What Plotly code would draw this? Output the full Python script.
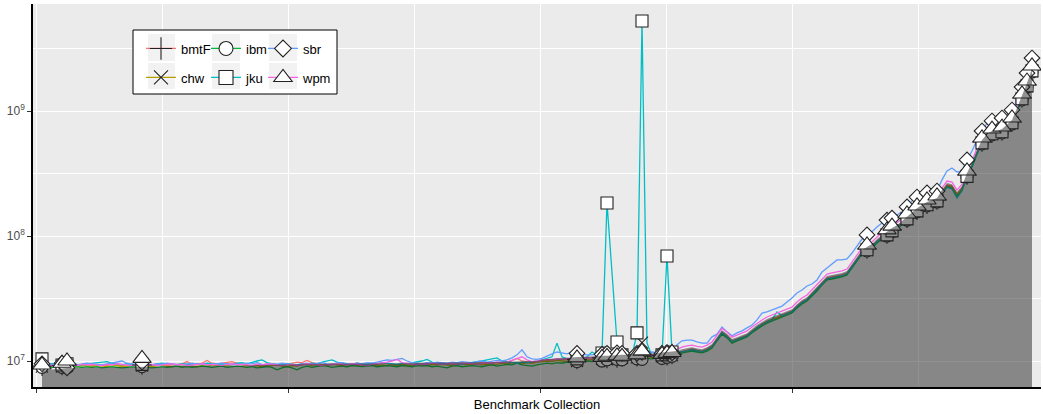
import plotly.graph_objects as go

# values are in millions (multiplied by SCALE when plotted)
SCALE = 1e6

n_points = 199
bench = list(range(n_points))

bmtF = [
    9.1, 9.2, 9.3, 9.4, 9.2, 9.3, 9.1, 9.2, 9.4, 9.3,
    9.2, 9.1, 9.3, 9.2, 9.4, 9.3, 9.2, 9.1, 9.3, 9.2,
    9.3, 9.4, 9.2, 9.3, 9.1, 9.2, 9.3, 9.4, 9.5, 9.9,
    9.4, 9.3, 9.6, 10.1, 9.6, 9.5, 9.6, 9.7, 9.9, 9.6,
    9.4, 9.3, 9.2, 9.4, 9.3, 9.2, 9.4, 9.3, 9.2, 9.4,
    9.6, 9.8, 9.7, 10.1, 9.7, 9.5, 9.4, 9.3, 9.5, 9.4,
    9.5, 9.3, 9.4, 9.6, 9.4, 9.3, 9.5, 9.4, 9.6, 9.5,
    9.4, 9.3, 9.5, 9.6, 9.4, 9.5, 9.3, 9.6, 9.5, 9.4,
    9.6, 9.5, 9.4, 9.6, 9.7, 9.5, 9.4, 9.6, 9.7, 9.5,
    9.6, 9.8, 9.6, 9.7, 10.1, 10.5, 10.0, 9.8, 9.7, 9.9,
    10.1, 10.0, 10.2, 10.1, 10.3, 10.2, 10.1, 10.3, 10.2, 10.4,
    10.3, 10.5, 10.6, 10.5, 10.7, 10.6, 10.8, 10.7, 10.9, 10.8,
    10.9, 11.0, 10.8, 11.0, 11.1, 11.0, 11.3, 11.6,
    12.0, 12.3, 12.5, 12.2, 12.0, 12.5, 13.2, 15.0, 17.1, 15.9,
    14.5, 15.0, 15.6, 16.1, 17.4, 18.7, 19.8, 20.9, 21.7, 22.5,
    23.3, 24.2, 25.1, 27.5, 29.7, 31.3, 34.4, 37.7, 42.1, 46.1,
    47.0, 47.9, 48.8, 50.6, 57.5, 65.5, 74.5, 78.7, 83.2, 91.2,
    98.2, 104, 112, 118, 127, 139, 150, 161, 171, 180,
    187, 194, 225, 256, 251, 217, 242, 308, 370, 470,
    565, 631, 667, 667, 692, 745, 817, 1019, 1271, 1614,
    2128,
]

chw = [
    9.0, 9.1, 9.2, 9.1, 9.0, 9.2, 9.1, 9.0, 9.2, 9.1,
    9.0, 9.2, 9.1, 9.0, 9.1, 9.2, 9.0, 9.1, 9.2, 9.1,
    9.2, 9.1, 9.0, 9.2, 9.3, 9.1, 9.0, 9.2, 9.1, 9.2,
    9.1, 9.0, 9.2, 9.1, 9.3, 9.2, 9.1, 9.2, 9.4, 9.6,
    9.3, 9.2, 9.1, 9.2, 9.0, 9.1, 9.2, 9.3, 9.1, 9.0,
    9.2, 9.1, 9.3, 9.4, 9.2, 9.1, 9.3, 9.2, 9.4, 9.3,
    9.2, 9.4, 9.3, 9.2, 9.1, 9.3, 9.4, 9.2, 9.3, 9.2,
    9.3, 9.2, 9.4, 9.3, 9.2, 9.4, 9.3, 9.2, 9.4, 9.3,
    9.4, 9.3, 9.2, 9.4, 9.5, 9.3, 9.4, 9.5, 9.3, 9.4,
    9.5, 9.4, 9.6, 9.5, 9.7, 9.6, 9.5, 9.7, 9.6, 9.8,
    9.9, 10.0, 9.9, 10.1, 10.0, 9.9, 10.1, 10.0, 10.2, 10.1,
    10.2, 10.3, 10.4, 10.3, 10.5, 10.4, 10.6, 10.5, 10.6, 10.7,
    14.0, 10.8, 10.7, 10.8, 10.9, 10.8, 11.1, 11.4,
    11.8, 12.1, 12.2, 12.0, 11.8, 12.2, 12.9, 14.7, 16.8, 15.6,
    14.2, 14.7, 15.3, 15.8, 17.0, 18.4, 19.4, 20.5, 21.3, 22.1,
    22.9, 23.8, 24.6, 27.0, 29.1, 30.7, 33.7, 37.0, 41.3, 45.2,
    46.1, 46.9, 47.8, 49.6, 56.4, 64.2, 73.0, 77.1, 81.5, 89.4,
    96.2, 102, 110, 116, 125, 137, 147, 158, 167, 177,
    183, 190, 220, 251, 246, 213, 237, 302, 363, 461,
    554, 619, 654, 654, 678, 730, 801, 999, 1246, 1582,
    2086,
]

ibm = [
    8.9, 8.8, 8.9, 9.0, 8.9, 8.8, 8.9, 9.0, 8.9, 9.0,
    8.9, 9.0, 8.8, 8.9, 9.0, 8.9, 8.8, 8.9, 9.0, 8.9,
    9.0, 8.9, 8.8, 8.9, 9.0, 8.9, 9.0, 9.1, 8.9, 9.0,
    8.9, 9.0, 9.1, 9.0, 8.9, 9.0, 9.1, 8.9, 9.0, 9.1,
    9.0, 8.9, 9.0, 8.8, 8.9, 9.0, 8.9, 8.5, 8.8, 9.0,
    8.8, 8.5, 8.9, 9.1, 8.9, 9.0, 9.2, 9.1, 8.9, 9.0,
    9.1, 9.0, 9.2, 9.1, 9.0, 9.1, 9.2, 9.0, 9.1, 9.2,
    9.1, 9.0, 9.2, 9.1, 9.0, 9.2, 9.1, 9.2, 9.0, 9.1,
    9.0, 8.8, 9.1, 9.2, 9.0, 9.1, 9.2, 9.1, 9.0, 9.2,
    9.3, 9.1, 9.2, 9.4, 9.3, 9.6, 9.3, 9.2, 9.1, 9.3,
    9.4, 9.6, 9.5, 9.7, 9.6, 9.8, 9.7, 9.9, 9.8, 10.0,
    9.9, 10.1, 10.0, 10.2, 10.1, 10.3, 10.2, 10.4, 10.3, 10.4,
    10.3, 10.5, 10.4, 10.6, 10.5, 10.7, 10.9, 11.2,
    11.6, 11.8, 12.0, 11.8, 11.6, 12.0, 12.7, 14.5, 16.4, 15.3,
    13.9, 14.5, 15.0, 15.6, 16.8, 18.0, 19.1, 20.1, 20.9, 21.7,
    22.5, 23.3, 24.2, 26.5, 28.6, 30.2, 33.1, 36.3, 40.6, 44.5,
    45.3, 46.1, 47.0, 48.8, 55.5, 63.1, 71.8, 75.9, 80.2, 87.9,
    94.6, 100, 108, 114, 123, 134, 145, 156, 164, 174,
    180, 187, 217, 247, 242, 209, 233, 297, 356, 453,
    545, 608, 643, 643, 667, 718, 787, 982, 1225, 1556,
    2051,
]

jku = [
    10.4, 9.3, 9.5, 9.4, 9.3, 9.5, 9.6, 9.4, 9.3, 9.5,
    9.6, 9.7, 9.8, 9.9, 9.6, 9.4, 9.3, 9.5, 9.4, 9.3,
    9.4, 9.5, 9.3, 9.4, 9.6, 9.5, 9.4, 9.3, 9.5, 9.4,
    9.3, 9.5, 9.4, 9.6, 9.5, 9.4, 9.3, 9.5, 9.4, 9.6,
    9.7, 9.5, 9.8, 10.0, 10.2, 9.7, 9.5, 9.4, 9.3, 9.5,
    9.4, 9.3, 9.5, 9.4, 9.6, 9.5, 9.8, 10.0, 10.2, 9.8,
    9.6, 9.5, 9.4, 9.6, 9.5, 9.4, 9.6, 9.5, 9.7, 9.6,
    9.5, 9.4, 9.6, 9.5, 9.7, 9.8, 10.0, 10.3, 9.8, 9.6,
    9.5, 9.4, 9.6, 9.5, 9.4, 9.6, 9.7, 9.8, 10.0, 10.2,
    10.4, 10.6, 10.0, 9.8, 9.7, 9.6, 9.8, 9.7, 9.8, 10.0,
    10.2, 10.5, 10.8, 13.9, 10.8, 10.4, 10.3, 10.4, 10.5, 10.8,
    11.8, 11.2, 11.6, 183.7, 51.0, 14.2, 11.2, 10.8, 11.0, 16.8,
    5248, 13.9, 11.0, 10.9, 11.2, 69.2, 11.8, 11.6,
    11.9, 12.0, 12.3, 12.1, 11.9, 12.3, 13.0, 14.8, 16.9, 15.6,
    14.3, 14.8, 15.3, 15.9, 17.1, 18.5, 19.5, 20.6, 21.4, 24.7,
    23.0, 23.9, 24.8, 27.2, 29.3, 30.9, 33.9, 37.2, 41.5, 45.5,
    46.3, 47.2, 48.1, 49.9, 56.8, 64.6, 73.5, 77.6, 82.0, 90.0,
    96.8, 102, 110, 116, 125, 137, 148, 159, 168, 178,
    185, 191, 218, 246, 238, 201, 230, 300, 362, 462,
    556, 621, 657, 657, 682, 734, 805, 1004, 1252, 1590,
    2096,
]

sbr = [
    9.5, 9.4, 9.3, 9.5, 9.6, 8.8, 9.5, 9.3, 9.4, 9.6,
    9.5, 9.4, 9.3, 9.5, 9.7, 9.8, 10.0, 9.6, 9.4, 9.3,
    9.8, 9.4, 9.3, 9.5, 9.4, 9.6, 9.5, 9.4, 9.3, 9.5,
    9.6, 9.4, 9.5, 9.3, 9.4, 9.5, 9.6, 9.4, 9.3, 9.5,
    9.4, 9.6, 9.5, 9.7, 9.4, 9.3, 9.5, 9.4, 9.6, 9.5,
    9.4, 9.3, 9.5, 9.6, 9.4, 9.5, 9.7, 9.5, 9.4, 9.6,
    9.7, 9.5, 9.4, 9.6, 9.5, 9.7, 9.6, 9.8, 10.0, 10.2,
    10.1, 10.3, 10.5, 10.0, 9.7, 9.6, 9.5, 9.7, 9.6, 9.8,
    9.7, 9.6, 9.8, 9.7, 9.9, 9.8, 9.7, 9.9, 10.0, 9.8,
    9.9, 10.1, 10.0, 10.2, 10.6, 11.2, 12.3, 10.8, 10.4, 10.3,
    10.5, 11.0, 11.4, 11.8, 11.6, 11.4, 11.8, 11.5, 11.3, 11.2,
    11.2, 11.4, 11.3, 11.5, 11.4, 11.6, 11.5, 11.4, 11.6, 11.5,
    11.7, 11.6, 11.8, 11.6, 11.5, 11.7, 11.6, 13.5,
    14.5, 14.7, 14.7, 14.2, 13.9, 13.9, 15.6, 16.4, 18.7, 17.1,
    15.9, 16.8, 17.4, 18.4, 19.4, 21.3, 24.2, 24.7, 25.6, 26.6,
    27.5, 29.7, 31.9, 35.0, 37.0, 39.8, 41.3, 44.5, 51.5, 55.5,
    59.7, 64.3, 64.3, 65.5, 73.1, 83.2, 94.6, 102, 108, 118,
    127, 134, 139, 147, 156, 171, 191, 205, 213, 221,
    225, 229, 281, 331, 350, 325, 331, 406, 479, 586,
    692, 802, 832, 847, 879, 929, 1019, 1202, 1556, 2014,
    2655,
]

wpm = [
    9.3, 9.4, 9.2, 9.3, 9.6, 10.0, 9.3, 9.2, 9.4, 9.3,
    9.4, 9.3, 9.2, 9.4, 9.3, 9.5, 9.4, 9.3, 9.2, 9.4,
    10.5, 9.3, 9.4, 9.2, 9.3, 9.4, 9.5, 9.3, 9.4, 9.2,
    9.3, 9.4, 9.5, 9.3, 9.4, 9.3, 9.2, 9.4, 9.5, 9.3,
    9.4, 9.3, 9.2, 9.4, 9.3, 9.5, 9.4, 9.3, 9.2, 9.3,
    9.4, 9.2, 9.3, 9.5, 9.4, 9.3, 9.2, 9.4, 9.3, 9.5,
    9.4, 9.3, 9.5, 9.4, 9.3, 9.2, 9.4, 9.5, 9.6, 9.8,
    10.0, 10.3, 9.7, 9.5, 9.4, 9.3, 9.5, 9.4, 9.6, 9.5,
    9.4, 9.5, 9.6, 9.4, 9.5, 9.6, 9.5, 9.4, 9.6, 9.7,
    9.6, 9.8, 9.7, 9.8, 10.1, 10.4, 10.8, 10.2, 9.9, 10.0,
    10.1, 10.3, 10.2, 10.4, 10.3, 10.5, 10.4, 10.6, 10.5, 10.7,
    10.6, 10.8, 10.7, 10.9, 10.8, 11.0, 10.9, 11.1, 11.0, 11.2,
    12.0, 11.3, 11.2, 11.4, 11.3, 11.5, 11.7, 12.4,
    12.9, 13.2, 13.4, 13.1, 12.9, 13.4, 14.2, 16.1, 18.2, 17.1,
    15.5, 16.1, 16.7, 17.4, 18.7, 20.1, 21.3, 22.5, 23.3, 24.2,
    25.1, 26.0, 27.0, 29.6, 31.9, 33.7, 37.0, 40.5, 45.3, 49.6,
    50.6, 51.5, 52.5, 54.4, 61.9, 70.4, 80.1, 84.7, 89.5, 98.1,
    106, 112, 120, 127, 137, 150, 161, 174, 184, 194,
    201, 209, 242, 275, 270, 233, 260, 331, 398, 506,
    608, 679, 717, 717, 744, 801, 879, 1096, 1368, 1737,
    2290,
]

area_vals = [
    8.4, 8.5, 8.5, 8.6, 8.7, 8.8, 8.8, 8.9, 8.9, 8.9,
    8.9, 9.0, 9.0, 9.0, 9.0, 9.0, 9.0, 9.0, 9.0, 9.0,
    9.0, 9.0, 9.0, 9.0, 9.0, 9.1, 9.1, 9.1, 9.1, 9.1,
    9.1, 9.1, 9.1, 9.1, 9.1, 9.2, 9.2, 9.2, 9.2, 9.2,
    9.2, 9.2, 9.2, 9.3, 9.3, 9.3, 9.3, 9.3, 9.4, 9.4,
    9.4, 9.4, 9.5, 9.5, 9.5, 9.5, 9.5, 9.5, 9.5, 9.5,
    9.5, 9.6, 9.6, 9.6, 9.6, 9.6, 9.6, 9.6, 9.6, 9.6,
    9.6, 9.6, 9.6, 9.6, 9.6, 9.7, 9.7, 9.7, 9.7, 9.7,
    9.7, 9.7, 9.7, 9.7, 9.7, 9.7, 9.8, 9.8, 9.8, 9.8,
    9.8, 9.8, 9.9, 9.9, 9.9, 9.9, 9.9, 10.0, 10.0, 10.0,
    10.3, 10.4, 10.5, 10.5, 10.6, 10.6, 10.7, 10.7, 10.8, 10.8,
    10.9, 10.9, 11.0, 11.0, 11.1, 11.1, 11.2, 11.2, 11.3, 11.3,
    11.4, 11.4, 11.5, 11.5, 11.6, 11.7, 11.8, 12.0,
    12.4, 12.7, 12.9, 12.6, 12.4, 12.9, 13.7, 15.5, 17.6, 16.5,
    15.0, 15.5, 16.2, 16.7, 18.0, 19.4, 20.5, 21.7, 22.5, 23.3,
    24.1, 25.1, 26.0, 28.5, 30.8, 32.4, 35.6, 39.1, 43.6, 47.8,
    48.7, 49.6, 50.6, 52.4, 59.6, 67.9, 77.2, 81.5, 86.2, 94.5,
    102, 108, 116, 122, 132, 144, 155, 167, 177, 187,
    194, 201, 233, 265, 260, 225, 251, 319, 383, 487,
    585, 654, 691, 691, 717, 772, 846, 1056, 1317, 1672,
    2180,
]
area_floor = 1.0  # below the visible range

# benchmarks whose points are marked
mark_idx = [0, 4, 5, 20, 107, 112, 113, 115, 116, 119, 120, 124, 125, 126,
            165, 169, 170, 173, 175, 177, 179, 185, 188, 190, 192, 194, 196, 197, 198]

series = {"bmtF": bmtF, "chw": chw, "ibm": ibm, "jku": jku, "sbr": sbr, "wpm": wpm}
colors = {"bmtF": "#F8766D", "chw": "#B79F00", "ibm": "#00BA38",
          "jku": "#00BFC4", "sbr": "#619CFF", "wpm": "#F564E3"}
symbols = {"bmtF": "cross-thin-open", "chw": "x-thin-open", "ibm": "circle",
           "jku": "square", "sbr": "diamond", "wpm": "triangle-up"}
msize = {"bmtF": 14, "chw": 12, "ibm": 12, "jku": 12, "sbr": 12, "wpm": 16}
legend_msize = {"bmtF": 16, "chw": 14, "ibm": 14, "jku": 14, "sbr": 13, "wpm": 16}

OUT = "#222222"

def marker_style(name, size):
    thin = symbols[name].endswith("thin-open")
    return dict(symbol=symbols[name], size=size,
                color=OUT if thin else "white",
                line=dict(color=OUT, width=1.1))

fig = go.Figure()

for name, vals in series.items():
    fig.add_trace(go.Scatter(x=bench, y=[v * SCALE for v in vals], mode="lines",
                             line=dict(color=colors[name], width=1.3),
                             showlegend=False, hoverinfo="skip"))

for name, vals in series.items():
    fig.add_trace(go.Scatter(x=[bench[i] for i in mark_idx],
                             y=[vals[i] * SCALE for i in mark_idx],
                             mode="markers", marker=marker_style(name, msize[name]),
                             showlegend=False, hoverinfo="skip"))

fig.add_trace(go.Scatter(x=bench, y=[area_floor * SCALE] * len(bench), mode="lines",
                         line=dict(width=0, color="rgba(0,0,0,0)"),
                         showlegend=False, hoverinfo="skip"))
fig.add_trace(go.Scatter(x=bench, y=[v * SCALE for v in area_vals], mode="lines",
                         line=dict(width=0, color="rgba(0,0,0,0)"),
                         fill="tonexty", fillcolor="rgba(35,35,35,0.5)",
                         showlegend=False, hoverinfo="skip"))

# legend: one small legend per entry, arranged in a 3x2 grid
W, H = 1008.0, 383.0
L, B = 33.0, 387.0
def px(xp):
    return (xp - L) / W
def py(yp):
    return (B - yp) / H

legend_layout = {"bmtF": (0, 0), "chw": (0, 1), "ibm": (1, 0),
                 "jku": (1, 1), "sbr": (2, 0), "wpm": (2, 1)}
col_left = [141, 206, 263]
row_top = [33.5, 62.5]
key_x = [(148, 175), (212, 240), (269, 297)]
key_y = [(34, 61), (63, 89)]

shapes = [dict(type="rect", xref="paper", yref="paper", layer="above",
               x0=px(133), x1=px(337), y0=py(94), y1=py(30),
               fillcolor="white", line=dict(color="black", width=1))]
for c in range(3):
    for r in range(2):
        shapes.append(dict(type="rect", xref="paper", yref="paper", layer="above",
                           x0=px(key_x[c][0]), x1=px(key_x[c][1]),
                           y0=py(key_y[r][1]), y1=py(key_y[r][0]),
                           fillcolor="#F2F2F2", line=dict(width=0)))

legends = {}
for k, name in enumerate(series):
    c, r = legend_layout[name]
    lid = "legend" if k == 0 else f"legend{k + 1}"
    fig.add_trace(go.Scatter(x=[None], y=[None], mode="lines+markers", name=name,
                             line=dict(color=colors[name], width=1.3),
                             marker=marker_style(name, legend_msize[name]),
                             legend=lid, showlegend=True))
    legends[lid] = dict(x=px(col_left[c]), y=py(row_top[r]), xanchor="left", yanchor="top",
                        bgcolor="rgba(0,0,0,0)", borderwidth=0,
                        font=dict(size=13, color="black"), itemclick=False)

fig.update_layout(
    width=1043, height=414,
    margin=dict(l=33, r=2, t=4, b=27),
    paper_bgcolor="white", plot_bgcolor="#EBEBEB",
    font=dict(family="Liberation Sans, Arial, sans-serif", size=13, color="black"),
    shapes=shapes,
    **legends,
)

fig.update_xaxes(
    range=[-1.8, 199.8], autorange=False,
    tickvals=[-1.2, 49.2, 99.6, 150.0], showticklabels=False,
    ticks="outside", ticklen=4, tickwidth=1, tickcolor="#333333",
    showgrid=True, gridcolor="white", gridwidth=1.4,
    minor=dict(tickvals=[24.0, 74.4, 124.8, 175.2], showgrid=True,
               gridcolor="white", gridwidth=0.7, ticks=""),
    showline=True, linecolor="black", linewidth=1.6,
    zeroline=False, automargin=False,
    title=dict(text="Benchmark Collection", font=dict(size=13, color="black"), standoff=8),
)

fig.update_yaxes(
    type="log", range=[6.792, 9.856], autorange=False,
    tickvals=[1e7, 1e8, 1e9], ticktext=["10<sup>7</sup>", "10<sup>8</sup>", "10<sup>9</sup>"],
    tickfont=dict(size=12, color="#4D4D4D"),
    ticks="outside", ticklen=4, tickwidth=1, tickcolor="#333333",
    showgrid=True, gridcolor="white", gridwidth=1.4,
    minor=dict(tickvals=[10 ** 7.5, 10 ** 8.5, 10 ** 9.5], showgrid=True,
               gridcolor="white", gridwidth=0.7, ticks=""),
    showline=True, linecolor="black", linewidth=1.6,
    zeroline=False, automargin=False,
)

fig.write_html("out.html", config={"displayModeBar": False},
               post_script="document.body.style.margin='0';document.body.style.overflow='hidden';")
